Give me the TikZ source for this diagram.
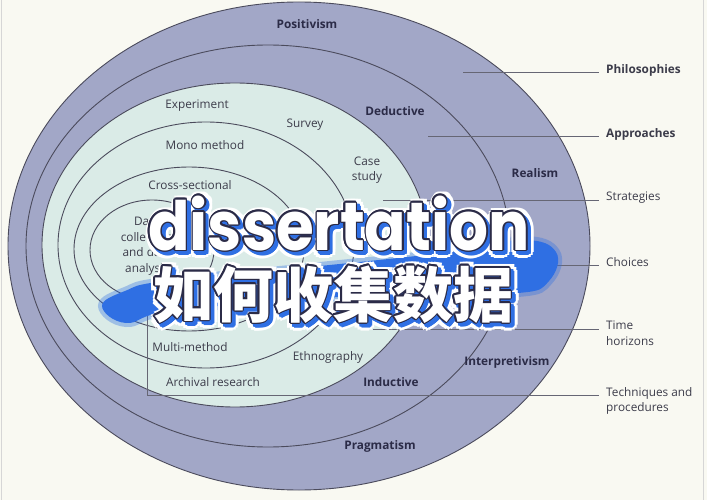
\documentclass[tikz,border=0pt]{standalone}
\usepackage{fontspec}
\setmainfont{Open Sans}
\newfontfamily\titlefont[FakeStretch=0.9]{Poppins}
\newfontfamily\cjkfont{Noto Sans CJK SC}

\definecolor{paper}{HTML}{F9F9F2}
\definecolor{slate}{HTML}{A2A7C7}
\definecolor{mint}{HTML}{DAEBE7}
\definecolor{rim}{HTML}{4B4B5C}
\definecolor{ink}{HTML}{2B2B47}
\definecolor{inkgrey}{HTML}{3C3C4A}
\definecolor{brush}{HTML}{2F6FE3}
\definecolor{edge}{HTML}{D6D6D6}

\def\labsize{\fontsize{11.8}{15.5}\selectfont}

\tikzset{
  ring/.style={draw=rim, line width=0.9pt},
  tag/.style={font=\labsize\bfseries, text=ink, inner sep=1pt},
  item/.style={font=\labsize, text=inkgrey, inner sep=1pt, align=center},
  side/.style={font=\labsize, text=inkgrey, anchor=north west, align=left, inner sep=0pt},
  leader/.style={draw=rim!85, line width=0.7pt},
  big/.style={inner sep=0pt, anchor=base}
}

\begin{document}
\begin{tikzpicture}[x=1pt, y=-1pt]
    \useasboundingbox (0,0) rectangle (707,500);
    \fill[paper] (0,0) rectangle (707,500);
    \draw[edge] (1,0) -- (1,500) (703,0) -- (703,500);

    % the onion, outside in
    \foreach \cx/\cy/\rx/\ry/\col in {299/246/291/244/slate, 268/246/242/201/slate,
        235/245/193/162/mint, 206/245/148/123/mint, 189/249/115/82/mint, 152/250/62/50/mint}
      \filldraw[ring, fill=\col] (\cx,\cy) ellipse [x radius=\rx, y radius=\ry];

    % layer names
    \foreach \x/\y/\nm/\txt in {307/24/posit/Positivism, 395/111/deduct/Deductive,
        535/173/real/Realism, 507/362/interp/Interpretivism, 391/382/induct/Inductive,
        380/446/prag/Pragmatism}
      \node[tag] (\nm) at (\x,\y) {\txt};
    \foreach \x/\y/\nm/\txt in {197/106/exper/Experiment, 305/125/survey/Survey,
        205/145/mono/Mono method, 367/170/case/{Case\\study}, 190/185/cross/Cross-sectional,
        147/246/core/{Data\\collection\\and data\\analysis}, 190/347/multi/Multi-method,
        328/357/ethno/Ethnography, 213/382/arch/Archival research}
      \node[item] (\nm) at (\x,\y) {\txt};

    % legend on the right
    \foreach \y/\sx/\nm/\txt in {72/463/phil/\textbf{Philosophies}, 136/428/appr/\textbf{Approaches},
        200/383/strat/Strategies, 265/440/choice/Choices, 329/373/time/{Time\\horizons},
        395/147/tech/{Techniques and\\procedures}} {
      \coordinate (\nm-in) at (\sx,\y);
      \node[side] (\nm) at (606,\y-8) {\txt};
      \draw[leader, shorten >=7pt] (\nm-in) -- (\nm-in -| \nm.west);
    }
    \coordinate (core-bot) at (147,300);
    \draw[leader] (core-bot) -- (tech-in);

    % brush stroke behind the title
    \filldraw[fill=brush, draw=brush, draw opacity=0.35, line width=8pt]
      plot[smooth cycle, tension=0.7] coordinates {(102,306) (125,291) (165,281)
        (300,268) (450,252) (522,240) (556,252) (549,281) (518,293) (420,292) (300,300)
        (170,311) (126,323)};

    % title: halo, blue shadow, outline, face
    \foreach \tx/\ty/\id/\txt in {339/250/en/{\fontsize{68}{70}\titlefont\bfseries dissertation},
        333/317/zh/{\fontsize{60}{62}\cjkfont\bfseries 如何收集数据}} {
      \foreach \a in {0,30,...,330}
        \node[big, text=white, shift={(2,2)}, shift={(\a:6)}] (\id-h\a) at (\tx,\ty) {\txt};
      \foreach \a in {0,30,...,330}
        \node[big, text=brush, shift={(3,3)}, shift={(\a:2)}] (\id-s\a) at (\tx,\ty) {\txt};
      \foreach \a in {0,30,...,330}
        \node[big, text=ink, shift={(\a:1.6)}] (\id-o\a) at (\tx,\ty) {\txt};
      \node[big, text=white] (\id) at (\tx,\ty) {\txt};
    }
\end{tikzpicture}
\end{document}
